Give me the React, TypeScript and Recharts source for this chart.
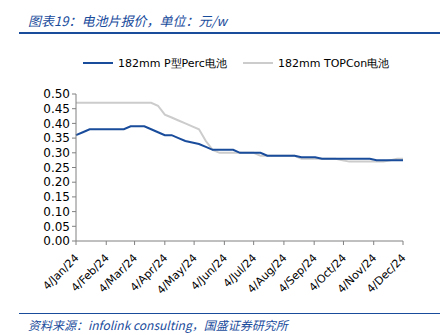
import { LineChart, Line, XAxis, YAxis } from "recharts";

const dates = [
  "2024-01-04", "2024-01-11", "2024-01-18", "2024-01-25", "2024-02-01", "2024-02-08",
  "2024-02-15", "2024-02-22", "2024-02-29", "2024-03-07", "2024-03-14", "2024-03-21",
  "2024-03-28", "2024-04-04", "2024-04-11", "2024-04-18", "2024-04-25", "2024-05-02",
  "2024-05-09", "2024-05-16", "2024-05-23", "2024-05-30", "2024-06-06", "2024-06-13",
  "2024-06-20", "2024-06-27", "2024-07-04", "2024-07-11", "2024-07-18", "2024-07-25",
  "2024-08-01", "2024-08-08", "2024-08-15", "2024-08-22", "2024-08-29", "2024-09-05",
  "2024-09-12", "2024-09-19", "2024-09-26", "2024-10-03", "2024-10-10", "2024-10-17",
  "2024-10-24", "2024-10-31", "2024-11-07", "2024-11-14", "2024-11-21", "2024-11-28",
  "2024-12-04",
];

const perc = [
  0.36, 0.37, 0.38, 0.38, 0.38, 0.38, 0.38, 0.38, 0.39, 0.39, 0.39, 0.38,
  0.37, 0.36, 0.36, 0.35, 0.34, 0.335, 0.33, 0.32, 0.31, 0.31, 0.31, 0.31,
  0.30, 0.30, 0.30, 0.30, 0.29, 0.29, 0.29, 0.29, 0.29, 0.285, 0.285, 0.285,
  0.28, 0.28, 0.28, 0.28, 0.28, 0.28, 0.28, 0.28, 0.275, 0.275, 0.275, 0.275,
  0.275,
];

const topcon = [
  0.47, 0.47, 0.47, 0.47, 0.47, 0.47, 0.47, 0.47, 0.47, 0.47, 0.47, 0.47,
  0.46, 0.43, 0.42, 0.41, 0.40, 0.39, 0.38, 0.34, 0.31, 0.30, 0.30, 0.30,
  0.30, 0.30, 0.30, 0.29, 0.29, 0.29, 0.29, 0.29, 0.29, 0.28, 0.28, 0.28,
  0.28, 0.28, 0.28, 0.275, 0.27, 0.27, 0.27, 0.27, 0.27, 0.27, 0.275, 0.28,
  0.28,
];

const tickDates = [
  "2024-01-04", "2024-02-04", "2024-03-04", "2024-04-04", "2024-05-04", "2024-06-04",
  "2024-07-04", "2024-08-04", "2024-09-04", "2024-10-04", "2024-11-04", "2024-12-04",
];
const monthNames = ["Jan", "Feb", "Mar", "Apr", "May", "Jun", "Jul", "Aug", "Sep", "Oct", "Nov", "Dec"];
const yTicks = [0, 0.05, 0.1, 0.15, 0.2, 0.25, 0.3, 0.35, 0.4, 0.45, 0.5];

const seriesNames = ["182mm P型Perc电池", "182mm TOPCon电池"];

const BLUE = "#1a4c9c";
const GRAY = "#cccccc";
const FONT = "'DejaVu Sans', Verdana, sans-serif";

const toTime = (s: string) => {
  const [y, m, d] = s.split("-").map(Number);
  return Date.UTC(y, m - 1, d);
};

const data = dates.map((d, i) => ({ t: toTime(d), perc: perc[i], topcon: topcon[i] }));
const xTicks = tickDates.map(toTime);

function fmtDate(t: number) {
  const d = new Date(t);
  return `${d.getUTCDate()}/${monthNames[d.getUTCMonth()]}/${String(d.getUTCFullYear()).slice(2)}`;
}

function DateTick(props: any) {
  const { x, y, payload } = props;
  const ax = x + 1;
  const ay = y + 9;
  return (
    <text
      x={ax}
      y={ay}
      transform={`rotate(-45, ${ax}, ${ay})`}
      textAnchor="end"
      dominantBaseline="central"
      fontSize={11}
      fontFamily={FONT}
      fill="#000"
    >
      {fmtDate(payload.value)}
    </text>
  );
}

export default function App() {
  const items = [
    { name: seriesNames[0], color: BLUE, left: 83 },
    { name: seriesNames[1], color: GRAY, left: 243 },
  ];
  return (
    <div style={{ position: "absolute", left: 0, top: 0, width: 447, height: 335, background: "#fff", overflow: "hidden" }}>
      <div
        style={{
          position: "absolute",
          left: 28,
          top: 11,
          fontSize: 13,
          fontStyle: "italic",
          color: BLUE,
          fontFamily: "'Noto Sans CJK SC', sans-serif",
        }}
      >
        图表19：电池片报价，单位：元/w
      </div>
      <div style={{ position: "absolute", left: 19, top: 32, width: 421, height: 2, background: BLUE }} />
      {items.map((it) => (
        <div
          key={it.name}
          style={{ position: "absolute", left: it.left, top: 55, height: 16, display: "flex", alignItems: "center", fontFamily: FONT, fontSize: 11 }}
        >
          <div style={{ width: 30, height: 2, background: it.color, marginRight: 5 }} />
          <span>{it.name}</span>
        </div>
      ))}
      <div style={{ position: "absolute", left: 0, top: 0 }}>
        <LineChart width={447} height={335} data={data} margin={{ top: 94, right: 44, bottom: 34, left: 0 }}>
          <XAxis
            dataKey="t"
            type="number"
            scale="time"
            domain={[xTicks[0], xTicks[xTicks.length - 1]]}
            ticks={xTicks}
            tick={<DateTick />}
            height={60}
            stroke="#808080"
            tickSize={4}
            interval={0}
          />
          <YAxis
            type="number"
            domain={[0, 0.5]}
            ticks={yTicks}
            tickFormatter={(v: number) => v.toFixed(2)}
            width={76}
            stroke="#808080"
            tickSize={4}
            tick={{ fontSize: 12, fontFamily: FONT, fill: "#000" }}
            interval={0}
          />
          <Line dataKey="topcon" stroke={GRAY} strokeWidth={2} dot={false} isAnimationActive={false} />
          <Line dataKey="perc" stroke={BLUE} strokeWidth={2} dot={false} isAnimationActive={false} />
        </LineChart>
      </div>
      <div style={{ position: "absolute", left: 19, top: 313, width: 421, height: 1, background: BLUE }} />
      <div
        style={{
          position: "absolute",
          left: 28,
          top: 316,
          fontSize: 12,
          fontStyle: "italic",
          color: BLUE,
          fontFamily: "'Noto Sans CJK SC', sans-serif",
        }}
      >
        资料来源：infolink consulting，国盛证券研究所
      </div>
    </div>
  );
}
